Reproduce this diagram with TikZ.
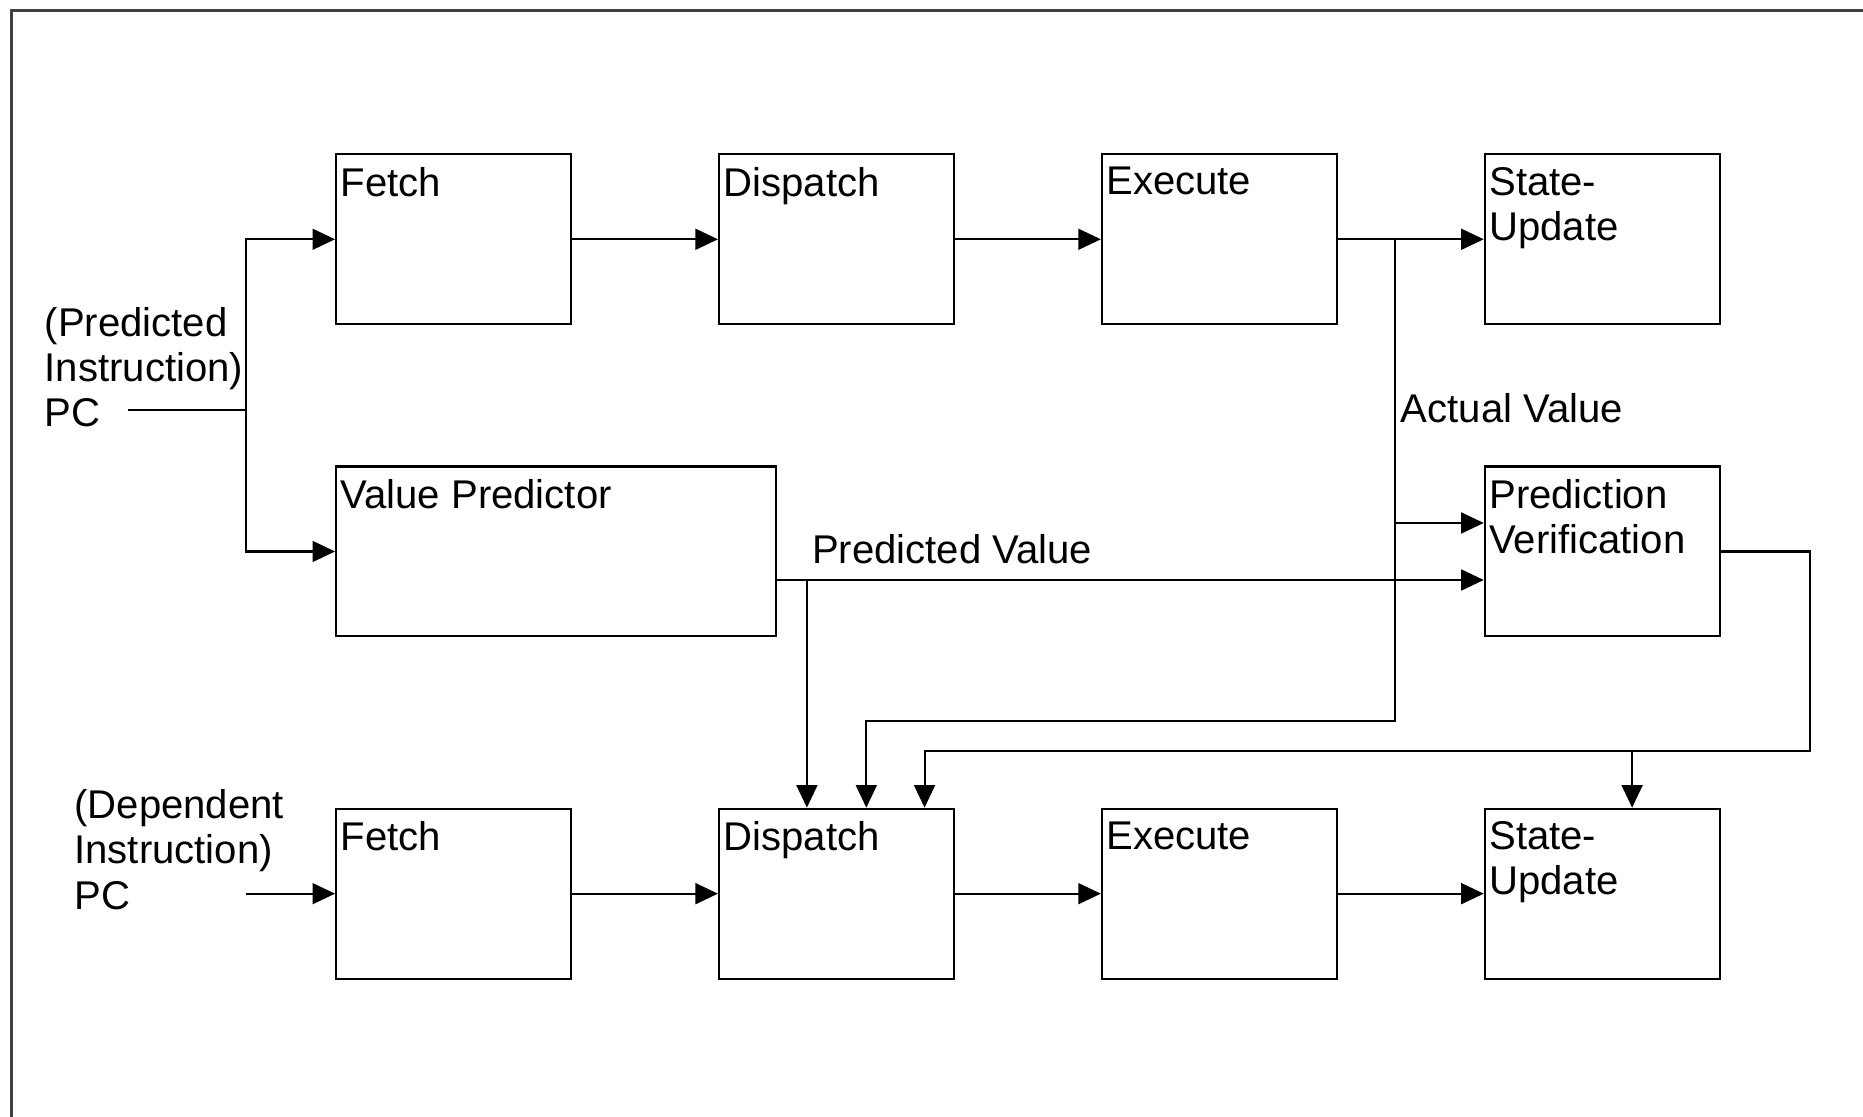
\documentclass[tikz,border=0pt]{standalone}
\usepackage{fontspec}
\setmainfont{Liberation Sans}
\usepackage{tikz}
\usetikzlibrary{positioning,arrows.meta,calc}

\begin{document}
\begin{tikzpicture}[
    font=\fontsize{9.6pt}{10.8pt}\selectfont,
    block/.style={rectangle, draw, line width=0.5pt, minimum width=1.98cm, minimum height=1.43cm, inner sep=0pt},
    tag/.style={anchor=north west, align=left, inner xsep=0.04cm, inner ysep=0.11cm},
    ann/.style={align=left, inner sep=0pt},
    lbl/.style={anchor=base west, inner sep=0pt},
    wire/.style={line width=0.5pt},
    arr/.style={-{Triangle[length=5.4pt, width=5pt]}, line width=0.5pt},
    frame/.style={line width=0.7pt, draw=black!75},
    node distance=1.225cm
]
\useasboundingbox (0,0) rectangle (15.68,-9.40);
\draw[frame] (0.10,-9.40) -- (0.10,-0.09) -- (15.68,-0.09);

% upper pipeline (predicted instruction)
\node[block, anchor=north west, label={[tag]north west:Fetch}] (fetchA) at (2.82,-1.29) {};
\node[block, right=of fetchA, label={[tag]north west:Dispatch}] (dispA) {};
\node[block, right=of dispA, label={[tag]north west:Execute}] (execA) {};
\node[block, right=of execA, label={[tag]north west:State-\\Update}] (stateA) {};

% predictor and verification
\node[block, minimum width=3.70cm, below=1.18cm of fetchA.south west, anchor=north west,
      label={[tag]north west:Value Predictor}] (vpred) {};
\node[block, below=1.18cm of stateA, label={[tag]north west:Prediction\\Verification}] (predv) {};

% lower pipeline (dependent instruction)
\node[block, below=4.06cm of fetchA, label={[tag]north west:Fetch}] (fetchB) {};
\node[block, right=of fetchB, label={[tag]north west:Dispatch}] (dispB) {};
\node[block, right=of dispB, label={[tag]north west:Execute}] (execB) {};
\node[block, right=of execB, label={[tag]north west:State-\\Update}] (stateB) {};

% input labels
\node[ann, anchor=north west] (pcA) at (0.37,-2.58) {(Predicted\\Instruction)\\PC};
\node[ann, anchor=north west] (pcB) at (0.62,-6.64) {(Dependent\\Instruction)\\PC};

% helper points
\coordinate (pcAout) at (1.08,-3.45);
\coordinate (forkA) at ($(fetchA.west |- pcAout)+(-0.75,0)$);
\coordinate (pcBout) at ($(fetchB.west)+(-0.75,0)$);
\coordinate (actA) at ($(execA.east)+(0.48,0)$);
\coordinate (pvIn1) at ($(predv.west)+(0,0.24)$);
\coordinate (pvIn2) at ($(predv.west)+(0,-0.24)$);
\coordinate (inPred) at ($(dispB.north)+(-0.25,0)$);
\coordinate (inAct) at ($(dispB.north)+(0.25,0)$);
\coordinate (inVer) at ($(dispB.north)+(0.74,0)$);
\coordinate (inState) at ($(stateB.north)+(0.25,0)$);
\coordinate (actBend) at ($(inAct)+(0,0.73)$);
\coordinate (verBend) at ($(inVer)+(0,0.48)$);

% PC inputs
\draw[wire] (pcAout) -- (forkA);
\draw[arr] (forkA) |- (fetchA.west);
\draw[arr] (forkA) |- (vpred.west);
\draw[arr] (pcBout) -- (fetchB.west);

% pipeline stages
\draw[arr] (fetchA) -- (dispA);
\draw[arr] (dispA) -- (execA);
\draw[arr] (execA) -- (stateA);
\draw[arr] (fetchB) -- (dispB);
\draw[arr] (dispB) -- (execB);
\draw[arr] (execB) -- (stateB);

% actual value
\draw[arr] (actA) |- (actBend) -- (inAct);
\draw[arr] (actA |- pvIn1) -- (pvIn1);
\node[lbl] (actlbl) at ($(actA |- stateA.south)+(0.04,-0.82)$) {Actual Value};

% predicted value
\draw[arr] (vpred.east |- pvIn2) -- (pvIn2);
\draw[arr] (inPred |- pvIn2) -- (inPred);
\node[lbl] (predlbl) at ($(vpred.east |- pvIn2)+(0.29,0.14)$) {Predicted Value};

% verification result
\draw[arr] (predv.east) -- ++(0.75,0) |- (verBend) -- (inVer);
\draw[arr] (inState |- verBend) -- (inState);

\end{tikzpicture}
\end{document}
